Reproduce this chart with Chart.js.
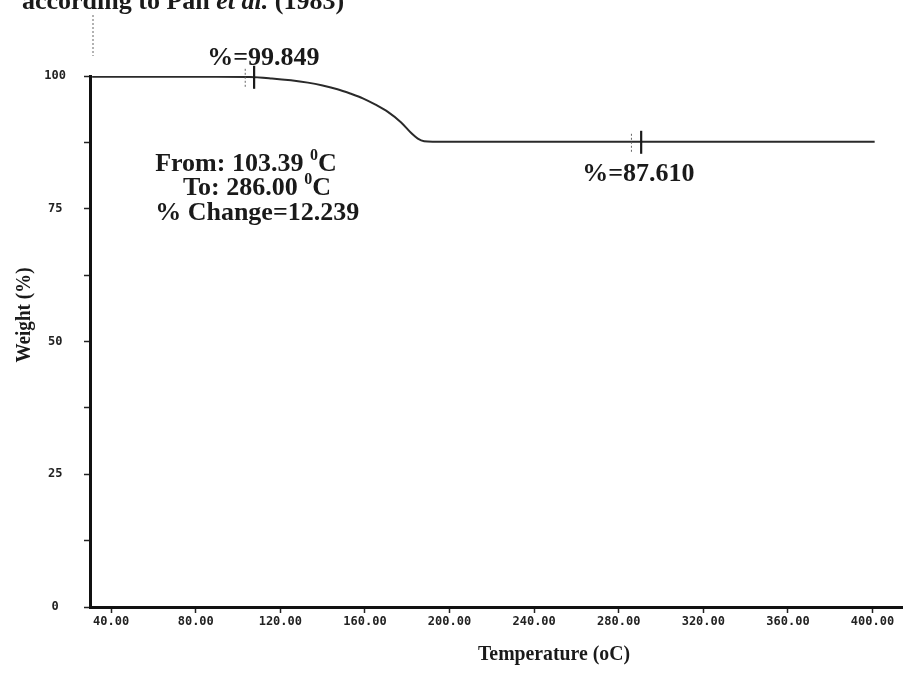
<!DOCTYPE html>
<html>
<head>
<meta charset="utf-8">
<script src="https://cdn.jsdelivr.net/npm/chart.js@4/dist/chart.umd.min.js"></script>
<style>
  html, body { margin: 0; background: #fff; }
  canvas { display: block; }
</style>
</head>
<body>
<canvas id="tga" width="903" height="673"></canvas>
<script>
// TGA curve
const temps   = [31, 60, 90, 105, 116, 125, 133, 140, 147, 153, 159, 165, 171, 177, 182, 185, 188, 192, 240, 300, 360, 401];
const weights = [99.85, 99.85, 99.85, 99.82, 99.55, 99.2, 98.75, 98.2, 97.5, 96.7, 95.8, 94.6, 93.2, 91.3, 89.2, 88.2, 87.7, 87.61, 87.61, 87.61, 87.61, 87.61];

const xTicks = [40, 80, 120, 160, 200, 240, 280, 320, 360, 400];
const yTicks = [0, 12.5, 25, 37.5, 50, 62.5, 75, 87.5, 100];
const yLabelled = [0, 25, 50, 75, 100];

// cursor marks: [temperature, weight]
const boldMarks = [[107.6, 99.849], [290.6, 87.61]];
const thinMarks = [[103.39, 99.849], [286.0, 87.61]];

// annotation text, placed in data units (left edge, baseline)
const notes = [
  { parts: [['%=99.849']], x: 85.4, y: 102.1 },
  { parts: [['From: 103.39 '], ['0', true], ['C']], x: 60.8, y: 82.2 },
  { parts: [['To: 286.00 '], ['0', true], ['C']], x: 74.0, y: 77.6 },
  { parts: [['% Change=12.239']], x: 60.8, y: 72.9 },
  { parts: [['%=87.610']], x: 262.7, y: 80.2 }
];

const serif = '"Liberation Serif", "Times New Roman", serif';

function drawRich(ctx, parts, x, y) {
  parts.forEach(([txt, sup]) => {
    ctx.font = sup ? `bold 16px ${serif}` : `bold 26px ${serif}`;
    ctx.fillText(txt, x, sup ? y - 11 : y);
    x += ctx.measureText(txt).width;
  });
}

function drawFit(ctx, txt, cx, cy, size, width, rot) {
  ctx.save();
  ctx.font = `bold ${size}px ${serif}`;
  const w = ctx.measureText(txt).width;
  ctx.translate(cx, cy);
  if (rot) ctx.rotate(-Math.PI / 2);
  ctx.scale(width / w, 1);
  ctx.textAlign = 'center';
  ctx.textBaseline = 'middle';
  ctx.fillText(txt, 0, 0);
  ctx.restore();
}

const extras = {
  id: 'extras',
  afterDraw(chart) {
    const { ctx, chartArea } = chart;
    const xs = chart.scales.x, ys = chart.scales.y;
    ctx.save();
    ctx.fillStyle = '#1a1a1a';
    ctx.strokeStyle = '#1a1a1a';

    // cursor marks
    ctx.lineWidth = 2.2;
    boldMarks.forEach(([t, w]) => {
      const px = xs.getPixelForValue(t), py = ys.getPixelForValue(w);
      ctx.beginPath(); ctx.moveTo(px, py - 11); ctx.lineTo(px, py + 12); ctx.stroke();
    });
    ctx.lineWidth = 1;
    ctx.setLineDash([2, 2]);
    ctx.strokeStyle = '#666';
    thinMarks.forEach(([t, w]) => {
      const px = xs.getPixelForValue(t), py = ys.getPixelForValue(w);
      ctx.beginPath(); ctx.moveTo(px, py - 8); ctx.lineTo(px, py + 10); ctx.stroke();
    });
    // dashed stub above the y axis
    ctx.beginPath();
    ctx.moveTo(chartArea.left + 3, 15);
    ctx.lineTo(chartArea.left + 3, chartArea.top - 20);
    ctx.stroke();
    ctx.setLineDash([]);

    // notes
    ctx.textAlign = 'left';
    ctx.textBaseline = 'alphabetic';
    notes.forEach(n => drawRich(ctx, n.parts, xs.getPixelForValue(n.x), ys.getPixelForValue(n.y)));

    // caption cut off at the top of the scan
    const base = 9;
    ctx.font = `bold 26px ${serif}`;
    ctx.fillText('according to Pan ', 22, base);
    let cx = 22 + ctx.measureText('according to Pan ').width;
    ctx.font = `bold italic 26px ${serif}`;
    ctx.fillText('et al.', cx, base);
    cx += ctx.measureText('et al. ').width;
    ctx.font = `bold 26px ${serif}`;
    ctx.fillText('(1983)', cx, base);

    // axis titles
    drawFit(ctx, 'Weight (%)', 25, 315, 20, 95, true);
    drawFit(ctx, 'Temperature (oC)', 554, 654, 22, 152, false);
    ctx.restore();
  }
};

new Chart(document.getElementById('tga'), {
  type: 'line',
  data: {
    datasets: [{
      data: temps.map((t, i) => ({ x: t, y: weights[i] })),
      borderColor: '#2a2a2a',
      borderWidth: 2,
      pointRadius: 0,
      cubicInterpolationMode: 'monotone',
      fill: false
    }]
  },
  options: {
    responsive: false,
    animation: false,
    layout: { padding: { top: 76, right: 0, left: 0, bottom: 0 } },
    plugins: { legend: { display: false }, tooltip: { enabled: false }, title: { display: false } },
    scales: {
      x: {
        type: 'linear',
        min: 30,
        max: 414.4,
        afterFit(scale) { scale.height = 66; },
        afterBuildTicks(scale) { scale.ticks = xTicks.map(v => ({ value: v })); },
        grid: { drawOnChartArea: false, tickLength: 6, tickWidth: 1.5, tickColor: '#222' },
        border: { color: '#111', width: 3 },
        ticks: {
          padding: 2,
          maxRotation: 0,
          autoSkip: false,
          color: '#222',
          font: { family: '"DejaVu Sans Mono", monospace', size: 12, weight: 'bold' },
          callback: v => v.toFixed(2)
        }
      },
      y: {
        min: 0,
        max: 100,
        afterFit(scale) { scale.width = 90; },
        afterBuildTicks(scale) { scale.ticks = yTicks.map(v => ({ value: v })); },
        grid: { drawOnChartArea: false, tickLength: 6, tickWidth: 1.5, tickColor: '#222' },
        border: { color: '#111', width: 3 },
        ticks: {
          padding: 18,
          crossAlign: 'center',
          autoSkip: false,
          color: '#222',
          font: { family: '"DejaVu Sans Mono", monospace', size: 12, weight: 'bold' },
          callback: v => yLabelled.includes(v) ? String(v) : ''
        }
      }
    }
  },
  plugins: [extras]
});
</script>
</body>
</html>
